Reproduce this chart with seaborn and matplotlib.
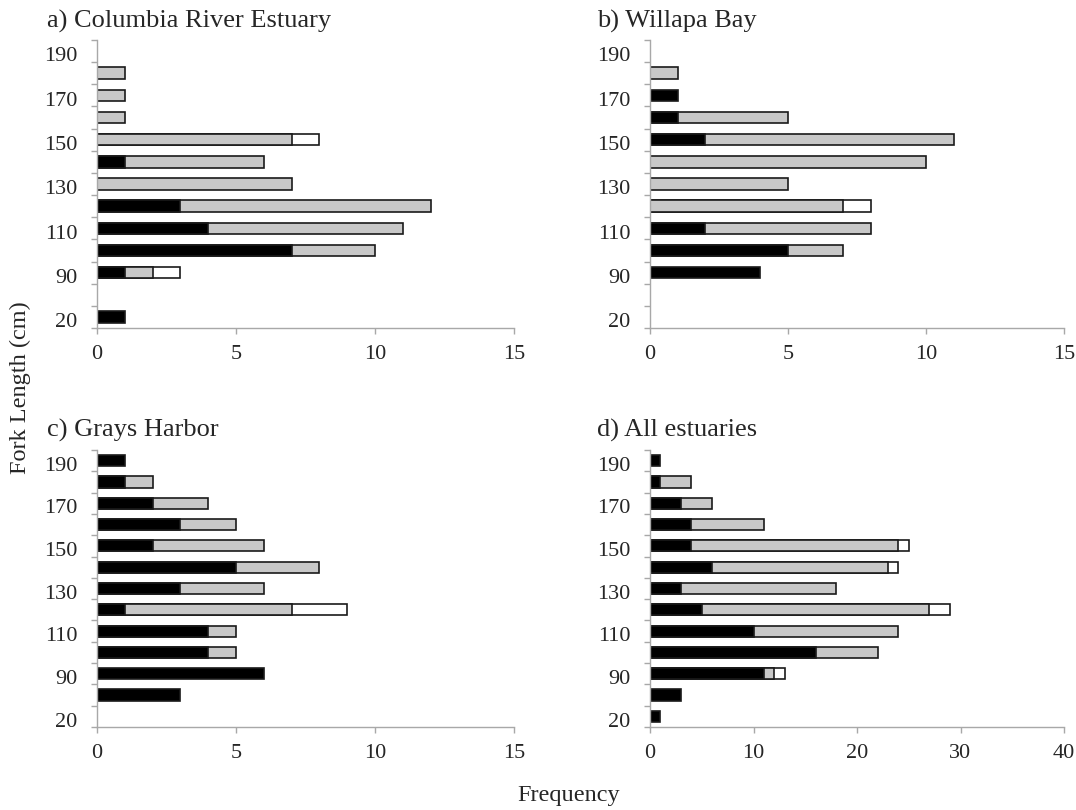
import pandas as pd
import numpy as np
import matplotlib
matplotlib.use('Agg')
import matplotlib.pyplot as plt
import seaborn as sns

sns.set_theme(style='white')
plt.rcParams['font.family'] = ['Liberation Serif', 'DejaVu Serif']

# fork length bins, bottom to top (only every other one is labelled)
bins = ['20', '80', '90', '100', '110', '120', '130', '140', '150', '160', '170', '180', '190']
shown = ['20', '90', '110', '130', '150', '170', '190']

# a) Columbia River Estuary
a_black = [1, 0, 1, 7, 4, 3, 0, 1, 0, 0, 0, 0, 0]
a_gray = [0, 0, 1, 3, 7, 9, 7, 5, 7, 1, 1, 1, 0]
a_white = [0, 0, 1, 0, 0, 0, 0, 0, 1, 0, 0, 0, 0]

# b) Willapa Bay
b_black = [0, 0, 4, 5, 2, 0, 0, 0, 2, 1, 1, 0, 0]
b_gray = [0, 0, 0, 2, 6, 7, 5, 10, 9, 4, 0, 1, 0]
b_white = [0, 0, 0, 0, 0, 1, 0, 0, 0, 0, 0, 0, 0]

# c) Grays Harbor
c_black = [0, 3, 6, 4, 4, 1, 3, 5, 2, 3, 2, 1, 1]
c_gray = [0, 0, 0, 1, 1, 6, 3, 3, 4, 2, 2, 1, 0]
c_white = [0, 0, 0, 0, 0, 2, 0, 0, 0, 0, 0, 0, 0]

# d) All estuaries
d_black = [1, 3, 11, 16, 10, 5, 3, 6, 4, 4, 3, 1, 1]
d_gray = [0, 0, 1, 6, 14, 22, 15, 17, 20, 7, 3, 3, 0]
d_white = [0, 0, 1, 0, 0, 2, 0, 1, 1, 0, 0, 0, 0]

panels = [
    ('a) Columbia River Estuary', a_black, a_gray, a_white, [0, 5, 10, 15]),
    ('b) Willapa Bay', b_black, b_gray, b_white, [0, 5, 10, 15]),
    ('c) Grays Harbor', c_black, c_gray, c_white, [0, 5, 10, 15]),
    ('d) All estuaries', d_black, d_gray, d_white, [0, 10, 20, 30, 40]),
]

W, H = 1076, 810
fig = plt.figure(figsize=(W / 100, H / 100), dpi=100)

# pixel boxes (x0, y0, x1, y1) and title anchors
boxes = [(97, 40, 514, 328), (650, 40, 1064, 328),
         (97, 450, 514, 727), (650, 450, 1064, 727)]
title_pos = [(47, 21), (597, 21), (47, 430), (597, 430)]

order = bins[::-1]  # seaborn puts the first category on top
edge = '#1a1a1a'
axis_col = '#a8a8a8'

for (title, blk, gry, wht, xt), (x0, y0, x1, y1), (tx, ty) in zip(panels, boxes, title_pos):
    ax = fig.add_axes([x0 / W, 1 - y1 / H, (x1 - x0) / W, (y1 - y0) / H])
    df = pd.DataFrame({'bin': bins, 'black': blk, 'gray': gry, 'white': wht})
    df['bg'] = df['black'] + df['gray']
    df['total'] = df['bg'] + df['white']

    layers = [('total', 'white', 'white'), ('bg', 'gray', '#c8c8c8'), ('black', 'black', 'black')]
    for col, part, colour in layers:
        sub = df[df[part] > 0]
        sns.barplot(data=sub, x=col, y='bin', order=order, orient='h',
                    color=colour, saturation=1, edgecolor=edge, linewidth=1.2,
                    width=0.52, errorbar=None, ax=ax)

    ax.set_xlim(xt[0], xt[-1])
    ax.set_ylim(len(bins) - 0.5, -0.5)
    ax.set_xticks(xt)
    ax.set_xticklabels([str(v) for v in xt])

    # labels sit a little below the bar they belong to, as in the original
    pos = [order.index(b) + 0.15 for b in shown]
    ax.set_yticks(pos)
    ax.set_yticklabels(shown)
    ax.set_yticks(np.arange(-0.5, len(bins), 1.0), minor=True)
    ax.tick_params(axis='y', which='major', length=0, pad=14, labelsize=16)
    ax.tick_params(axis='y', which='minor', length=4, width=1, color=axis_col, left=True)
    ax.tick_params(axis='x', which='major', length=4, width=1, color=axis_col,
                   bottom=True, pad=8, labelsize=16)
    ax.set_xlabel('')
    ax.set_ylabel('')
    sns.despine(ax=ax)
    for s in ['left', 'bottom']:
        ax.spines[s].set_color(axis_col)
        ax.spines[s].set_linewidth(1)

    fig.text(tx / W, 1 - ty / H, title, fontsize=19, ha='left', va='center')

fig.text(20 / W, 1 - 388 / H, 'Fork Length (cm)', rotation=90, fontsize=17.5,
         ha='center', va='center')
fig.text(569 / W, 1 - 795 / H, 'Frequency', fontsize=17.5, ha='center', va='center')

fig.savefig('out.png', dpi=100)
